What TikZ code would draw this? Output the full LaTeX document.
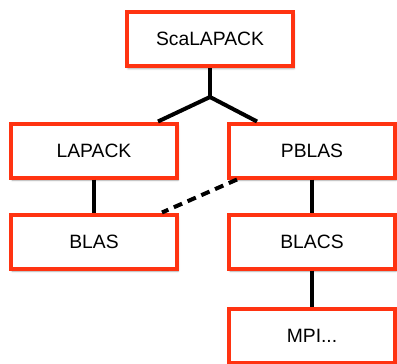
\documentclass[tikz,border=0pt]{standalone}
\usepackage{fontspec}
\setmainfont{Liberation Sans}
\usepackage[dvipsnames]{xcolor}
\usetikzlibrary{shadows.blur}
\definecolor{boxred}{HTML}{FF3311}

\begin{document}
\begin{tikzpicture}[x=1pt,y=-1pt,
  pkg/.style={draw=boxred,line width=4pt,fill=white,minimum width=166pt,minimum height=54pt,
    font=\fontsize{19.3}{21}\selectfont,inner sep=0pt,
    blur shadow={shadow xshift=1pt,shadow yshift=-2.5pt,shadow blur steps=6,shadow opacity=35}},
  link/.style={line width=4pt,black}]

\useasboundingbox (0,0) rectangle (397,364);

% Boxes
\node[pkg] (scalapack) at (210,39) {ScaLAPACK};
\node[pkg] (lapack) at (94,150.5) {LAPACK};
\node[pkg] (pblas) at (312,150.5) {PBLAS};
\node[pkg] (blas) at (94,241.5) {BLAS};
\node[pkg] (blacs) at (312,241.5) {BLACS};
\node[pkg] (mpi) at (312,336) {MPI...};

% Tree below ScaLAPACK
\coordinate (fork) at (210,97);
\draw[link] (scalapack) -- (fork);
\draw[link] (fork) -- ([xshift=64pt]lapack.north);
\draw[link] (fork) -- ([xshift=-55pt]pblas.north);

% Vertical edges
\draw[link] (lapack) -- (blas);
\draw[link] (pblas) -- (blacs);
\draw[link] (blacs) -- (mpi);

% Dashed edge
\draw[link, dash pattern=on 9pt off 6pt] ([xshift=10pt]pblas.south west) -- ([xshift=-17pt]blas.north east);

\end{tikzpicture}
\end{document}
